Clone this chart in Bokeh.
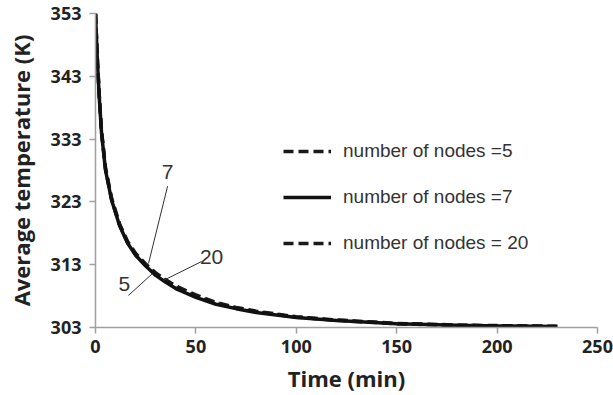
from bokeh.plotting import figure
from bokeh.models import Legend, LegendItem, Range1d, FixedTicker
from bokeh.core.properties import value
from bokeh.embed import file_html
from bokeh.resources import INLINE

# Data
time_min = [0, 1, 2, 3, 5, 8, 12, 16, 20, 25, 30, 35, 40, 50, 60, 70, 80, 100, 120, 150, 180, 200, 230]
temp_nodes7 = [353, 345, 339, 334, 328, 323.3, 319.2, 316.4, 314.5, 312.8, 311.3, 310.2, 309.2, 307.8,
               306.7, 306.0, 305.4, 304.6, 304.1, 303.6, 303.35, 303.25, 303.15]
temp_nodes5 = [353, 345.2, 339.3, 334.3, 328.4, 323.6, 319.5, 316.7, 314.8, 313.1, 311.7, 310.6, 309.6, 308.2,
               307.0, 306.2, 305.6, 304.7, 304.2, 303.65, 303.4, 303.3, 303.2]
temp_nodes20 = [353, 345.1, 339.1, 334.1, 328.2, 323.4, 319.3, 316.5, 314.6, 312.9, 311.5, 310.4, 309.4, 308.0,
                306.8, 306.1, 305.5, 304.65, 304.15, 303.6, 303.35, 303.25, 303.15]
x_ticks = [0, 50, 100, 150, 200, 250]
y_ticks = [303, 313, 323, 333, 343, 353]
legend_labels = ["number of nodes =5", "number of nodes =7", "number of nodes = 20"]
callout_labels = ["7", "5", "20"]

p = figure(width=613, height=395, output_backend="svg", toolbar_location=None,
           x_range=Range1d(0, 250), y_range=Range1d(303, 353),
           min_border_left=95, min_border_right=16, min_border_top=13, min_border_bottom=67)
p.outline_line_color = None
p.xgrid.grid_line_color = None
p.ygrid.grid_line_color = None
p.background_fill_color = "white"
p.border_fill_color = "white"

for ax in (p.xaxis[0], p.yaxis[0]):
    ax.axis_line_color = "#a0a0a0"
    ax.axis_line_width = 1.5
    ax.major_tick_line_color = "#a0a0a0"
    ax.major_tick_line_width = 1.5
    ax.major_tick_out = 6
    ax.major_tick_in = 0
    ax.minor_tick_line_color = None
    ax.major_label_text_font = "Open Sans"
    ax.major_label_text_font_style = "bold"
    ax.major_label_text_font_size = "18px"
    ax.major_label_text_color = "#222222"
    ax.axis_label_text_font = "Open Sans"
    ax.axis_label_text_font_style = "bold"
    ax.axis_label_text_font_size = "22px"
    ax.axis_label_text_color = "#222222"

p.xaxis.ticker = FixedTicker(ticks=x_ticks)
p.yaxis.ticker = FixedTicker(ticks=y_ticks)
p.xaxis.axis_label = "Time (min)"
p.yaxis.axis_label = "Average temperature (K)"
p.xaxis.major_label_standoff = 6
p.xaxis.axis_label_standoff = 7
p.yaxis.major_label_standoff = 8
p.yaxis.axis_label_standoff = 12

r5 = p.line(time_min, temp_nodes5, line_color="#1a1a1a", line_width=3.5, line_dash="10 5")
r20 = p.line(time_min, temp_nodes20, line_color="#1a1a1a", line_width=3.5, line_dash="10 5")
r7 = p.line(time_min, temp_nodes7, line_color="#111111", line_width=3.5)

# Callout labels with leader lines
p.segment(x0=[35.9, 16.4, 52.8], y0=[325.5, 308.1, 313.5],
          x1=[26.4, 28.4, 33.9], y1=[313.2, 311.6, 310.5],
          line_color="#333333", line_width=1)
p.text(x=[35.9, 14.4, 57.8], y=[327.8, 310.0, 314.3], text=callout_labels,
       text_font=value("Liberation Sans"), text_font_size="21px", text_color="#333333",
       text_align="center", text_baseline="middle")

legend = Legend(items=[LegendItem(label=legend_labels[0], renderers=[r5]),
                       LegendItem(label=legend_labels[1], renderers=[r7]),
                       LegendItem(label=legend_labels[2], renderers=[r20])],
                location=(188, 73))
legend.border_line_color = None
legend.background_fill_alpha = 0
legend.label_text_font = "Liberation Sans"
legend.label_text_font_size = "19px"
legend.label_text_color = "#333333"
legend.glyph_width = 48
legend.glyph_height = 20
legend.label_height = 20
legend.spacing = 24
legend.label_standoff = 12
legend.padding = 0
legend.margin = 0
p.add_layout(legend)

open("out.html", "w").write(file_html(p, INLINE))
